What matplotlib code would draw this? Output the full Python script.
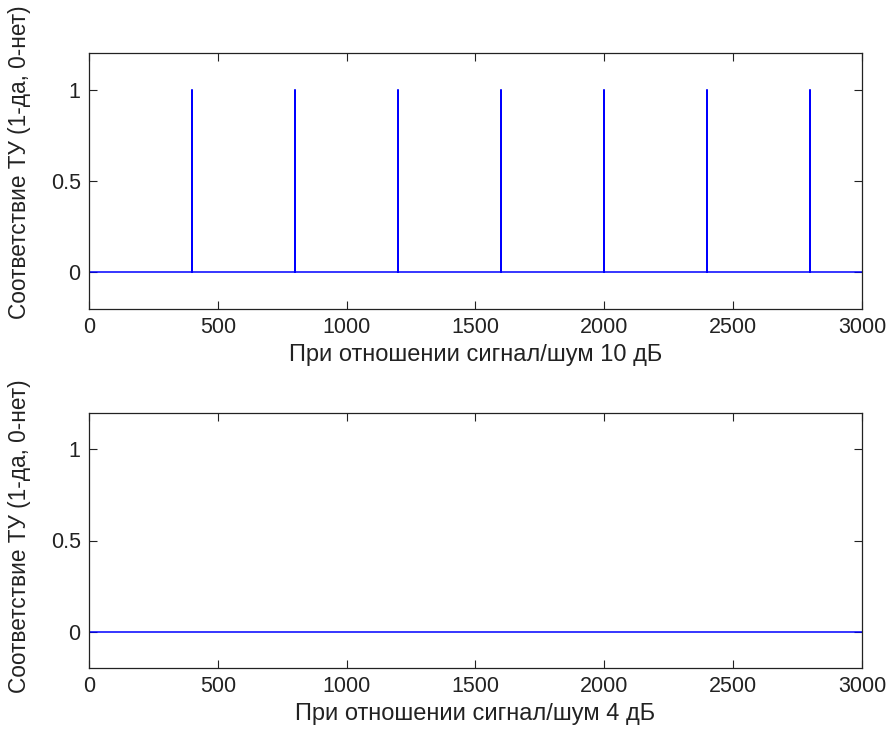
import matplotlib
matplotlib.use("Agg")
import matplotlib.pyplot as plt

# Data
x_range = [0, 3000]
spikes_10db = [400, 800, 1200, 1600, 2000, 2400, 2800]
spikes_4db = []
spike_height = 1
xticks = [0, 500, 1000, 1500, 2000, 2500, 3000]
yticks = [0, 0.5, 1]
ytick_labels = ["0", "0.5", "1"]
ylabel = "Соответствие ТУ (1-да, 0-нет)"
xlabels = ["При отношении сигнал/шум 10 дБ", "При отношении сигнал/шум 4 дБ"]

plt.rcParams['font.family'] = ['Liberation Sans', 'DejaVu Sans']

def build_line(spikes):
    xs = [x_range[0]]
    ys = [0]
    for p in spikes:
        xs += [p, p, p]
        ys += [0, spike_height, 0]
    xs.append(x_range[1])
    ys.append(0)
    return xs, ys

FS = 15.5
LFS = 17
YLFS = 16.3
TXT = '#222222'
fig = plt.figure(figsize=(8.87, 7.31), dpi=100)
W, H = 887, 731
boxes = [(89, 53, 862, 309), (89, 413, 862, 668)]
ylabel_ypos = [0.572, 0.518]
for (l, t, r, b), spikes, xl, yp in zip(boxes, [spikes_10db, spikes_4db], xlabels, ylabel_ypos):
    ax = fig.add_axes([l / W, (H - b) / H, (r - l) / W, (b - t) / H])
    xs, ys = build_line(spikes)
    ax.plot(xs, ys, color=(0, 0, 1), lw=1.1)
    ax.set_xlim(*x_range)
    ax.set_ylim(-0.2, 1.2)
    ax.set_xticks(xticks)
    ax.set_xticklabels([str(v) for v in xticks])
    ax.set_yticks(yticks)
    ax.set_yticklabels(ytick_labels)
    ax.tick_params(direction='in', top=True, right=True, length=5.5, width=0.8,
                   labelsize=FS, pad=6, colors=TXT, labelcolor=TXT)
    for s in ax.spines.values():
        s.set_linewidth(0.9)
        s.set_color(TXT)
    ax.set_xlabel(xl, fontsize=LFS, labelpad=4, color=TXT)
    ax.set_ylabel(ylabel, fontsize=YLFS, color=TXT)
    ax.yaxis.set_label_coords(-0.075, yp)

fig.savefig("out.png", dpi=100, facecolor='white')
